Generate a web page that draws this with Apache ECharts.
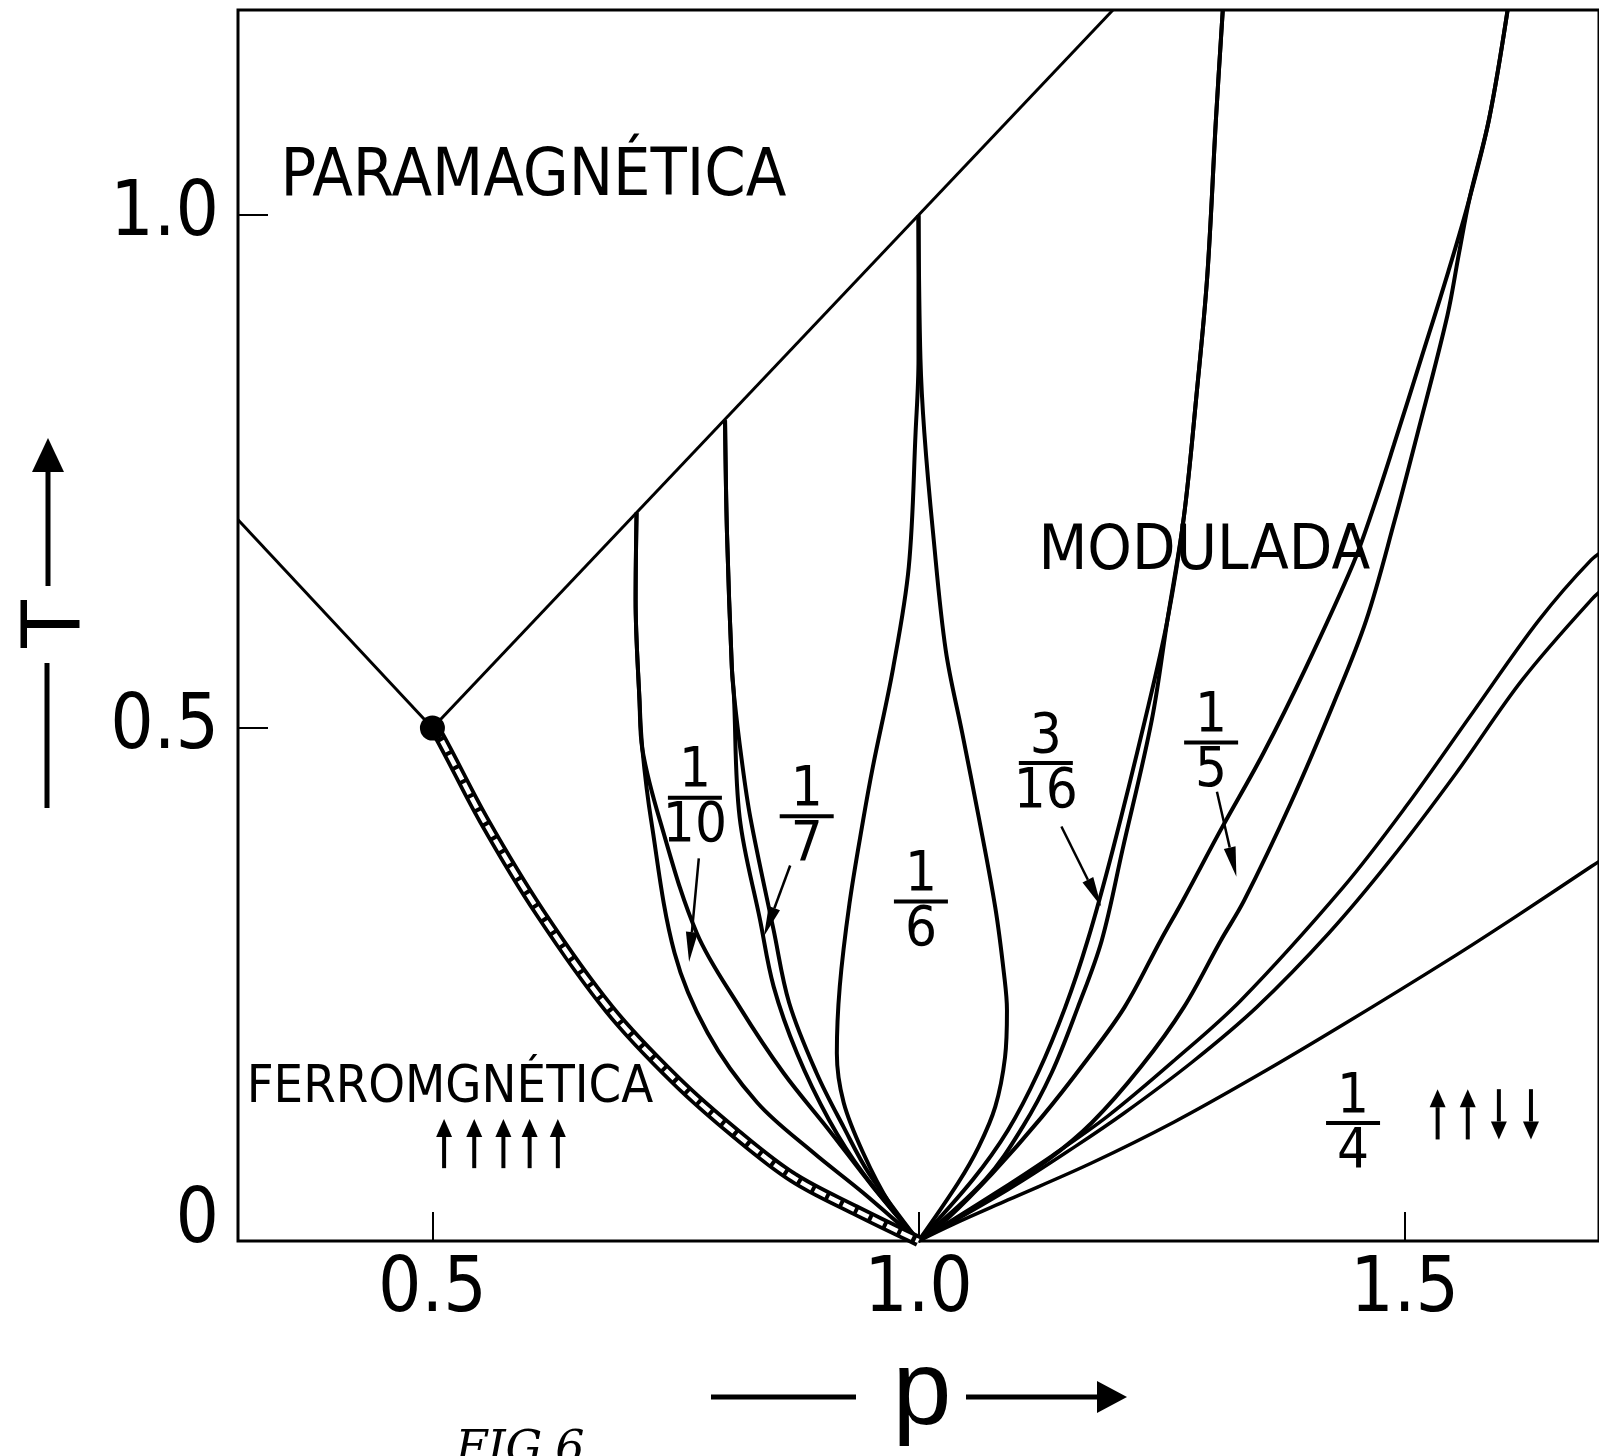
<!DOCTYPE html>
<html>
<head>
<meta charset="utf-8">
<title>Diagrama de fases</title>
<script src="https://cdn.jsdelivr.net/npm/echarts@6.0.0/dist/echarts.min.js"></script>
<style>
  html, body { margin: 0; padding: 0; background: #fff; }
  #chart { width: 1599px; height: 1456px; }
</style>
</head>
<body>
<div id="chart"></div>
<script>
// ---- datos (p, T) ----
const xTicks = [0.5, 1.0, 1.5]
const yTicks = [0, 0.5, 1.0]

const leftBoundary = [[0.3, 0.703], [0.5, 0.5]]
const paraBoundary = [[0.5, 0.5], [1.2, 1.2]]
const multiPoint = [[0.5, 0.5]]

const ferroBand = [[0.5, 0.5], [0.506, 0.494], [0.553, 0.410], [0.610, 0.321], [0.682, 0.226],
  [0.751, 0.156], [0.813, 0.104], [0.871, 0.062], [0.935, 0.030], [1.0, 0]]

const tenthOuter = [[0.710, 0.710], [0.709, 0.625], [0.713, 0.527], [0.716, 0.479], [0.725, 0.410],
  [0.749, 0.281], [0.783, 0.203], [0.834, 0.135], [0.892, 0.086], [0.943, 0.047], [1.0, 0]]
const tenthInner = [[0.710, 0.710], [0.709, 0.625], [0.713, 0.527], [0.716, 0.479], [0.734, 0.410],
  [0.772, 0.300], [0.816, 0.228], [0.861, 0.164], [0.908, 0.108], [0.953, 0.053], [1.0, 0]]

const seventhLeft = [[0.801, 0.800], [0.803, 0.690], [0.808, 0.559], [0.810, 0.534], [0.816, 0.413],
  [0.837, 0.313], [0.851, 0.248], [0.875, 0.183], [0.908, 0.118], [0.943, 0.066], [1.0, 0]]
const seventhRight = [[0.801, 0.800], [0.803, 0.690], [0.808, 0.559], [0.810, 0.534], [0.818, 0.470],
  [0.827, 0.413], [0.851, 0.303], [0.867, 0.232], [0.895, 0.164], [0.923, 0.111], [0.949, 0.066], [1.0, 0]]

const sixthLeft = [[1.0, 1.0], [1.0, 0.86], [0.997, 0.788], [0.990, 0.657], [0.974, 0.559], [0.953, 0.462],
  [0.943, 0.410], [0.929, 0.329], [0.919, 0.248], [0.916, 0.183], [0.923, 0.135], [0.943, 0.086],
  [0.970, 0.037], [1.0, 0]]
const sixthRight = [[1.0, 1.0], [1.002, 0.86], [1.006, 0.788], [1.015, 0.690], [1.028, 0.576], [1.045, 0.495],
  [1.062, 0.413], [1.079, 0.325], [1.088, 0.260], [1.091, 0.225], [1.089, 0.179], [1.079, 0.131],
  [1.062, 0.092], [1.041, 0.057], [1.0, 0]]

const threeSixteenthLeft = [[1.313, 1.2], [1.306, 1.094], [1.297, 0.940], [1.286, 0.825], [1.273, 0.706],
  [1.256, 0.605], [1.233, 0.508], [1.200, 0.382], [1.174, 0.293], [1.151, 0.228], [1.123, 0.164],
  [1.092, 0.108], [1.056, 0.060], [1.0, 0]]
const threeSixteenthRight = [[1.313, 1.2], [1.306, 1.094], [1.297, 0.940], [1.286, 0.825], [1.273, 0.706],
  [1.256, 0.605], [1.240, 0.508], [1.210, 0.382], [1.1885, 0.293], [1.164, 0.228], [1.137, 0.164],
  [1.107, 0.111], [1.069, 0.060], [1.0, 0]]

const fifthLeft = [[1.606, 1.2], [1.587, 1.094], [1.567, 1.017], [1.545, 0.945], [1.518, 0.863],
  [1.489, 0.776], [1.468, 0.715], [1.447, 0.660], [1.399, 0.560], [1.355, 0.476], [1.311, 0.401],
  [1.272, 0.332], [1.249, 0.293], [1.212, 0.228], [1.171, 0.174], [1.127, 0.121], [1.076, 0.066],
  [1.031, 0.023], [1.0, 0]]
const fifthRight = [[1.606, 1.2], [1.587, 1.094], [1.567, 1.017], [1.556, 0.963], [1.544, 0.902], [1.513, 0.786],
  [1.490, 0.703], [1.4605, 0.605], [1.427, 0.524], [1.383, 0.427], [1.335, 0.332], [1.311, 0.293],
  [1.273, 0.228], [1.229, 0.170], [1.178, 0.115], [1.133, 0.079], [1.076, 0.043], [1.0, 0]]

const rightPairUpper = [[1.71, 0.676], [1.692, 0.664], [1.638, 0.605], [1.570, 0.515], [1.501, 0.423],
  [1.437, 0.345], [1.332, 0.235], [1.263, 0.176], [1.195, 0.122], [1.137, 0.083], [1.076, 0.045], [1.0, 0]]
const rightPairLower = [[1.71, 0.640], [1.692, 0.625], [1.621, 0.547], [1.553, 0.456], [1.485, 0.371],
  [1.422, 0.300], [1.348, 0.228], [1.281, 0.174], [1.212, 0.125], [1.161, 0.092], [1.092, 0.050], [1.0, 0]]

const quarterBoundary = [[1.71, 0.376], [1.692, 0.365], [1.614, 0.316], [1.5485, 0.276], [1.437, 0.211],
  [1.348, 0.161], [1.263, 0.116], [1.178, 0.076], [1.092, 0.040], [1.035, 0.016], [1.0, 0]]

// rotulos de las fases
const regionLabels = [
  { text: 'PARAMAGNÉTICA', x: 0.604, y: 1.036 },
  { text: 'MODULADA', x: 1.294, y: 0.671 },
  { text: 'FERROMGNÉTICA', x: 0.518, y: 0.149 }
]
const fractionLabels = [
  { num: '1', den: '10', x: 0.770, y: 0.432 },
  { num: '1', den: '7', x: 0.885, y: 0.414 },
  { num: '1', den: '6', x: 1.0025, y: 0.331 },
  { num: '3', den: '16', x: 1.131, y: 0.466 },
  { num: '1', den: '5', x: 1.301, y: 0.486 },
  { num: '1', den: '4', x: 1.447, y: 0.115 }
]
// flechas que senalan las fases (desde p, T -> hasta p, T)
const pointerArrows = [
  [0.774, 0.373, 0.764, 0.272],
  [0.868, 0.366, 0.841, 0.297],
  [1.147, 0.404, 1.188, 0.326],
  [1.307, 0.438, 1.327, 0.355]
]
// espines
const ferroSpinX = [0.512, 0.543, 0.573, 0.600, 0.629]
const ferroSpinT = [0.071, 0.119]
const quarterSpinX = [1.534, 1.565, 1.597, 1.630]
const quarterSpinDir = [1, 1, -1, -1]
const quarterSpinT = [0.099, 0.148]

const NARROW = "'Liberation Sans Narrow', 'DejaVu Sans Condensed', 'Liberation Sans', sans-serif"
const REGULAR = "'Liberation Sans', Arial, sans-serif"
const regionFontSize = { 'PARAMAGNÉTICA': 66, 'MODULADA': 63, 'FERROMGNÉTICA': 52 }

const chart = echarts.init(document.getElementById('chart'))

function curve(data, width) {
  return {
    type: 'line',
    data: data,
    showSymbol: false,
    symbol: 'none',
    smooth: 0.35,
    silent: true,
    lineStyle: { color: '#000', width: width },
    z: 3
  }
}

function arrowRenderer(headLen, headHalf, shaft) {
  return function (params, api) {
    const a = api.coord([api.value(0), api.value(1)])
    const b = api.coord([api.value(2), api.value(3)])
    const dx = b[0] - a[0], dy = b[1] - a[1]
    const len = Math.hypot(dx, dy)
    const ux = dx / len, uy = dy / len
    const bx = b[0] - ux * headLen, by = b[1] - uy * headLen
    return {
      type: 'group',
      children: [
        { type: 'line', shape: { x1: a[0], y1: a[1], x2: bx, y2: by }, style: { stroke: '#000', lineWidth: shaft } },
        {
          type: 'polygon',
          shape: { points: [[b[0], b[1]], [bx - uy * headHalf, by + ux * headHalf], [bx + uy * headHalf, by - ux * headHalf]] },
          style: { fill: '#000' }
        }
      ]
    }
  }
}

const spinData = ferroSpinX.map(x => [x, ferroSpinT[0], x, ferroSpinT[1]])
  .concat(quarterSpinX.map((x, i) => quarterSpinDir[i] > 0
    ? [x, quarterSpinT[0], x, quarterSpinT[1]]
    : [x, quarterSpinT[1], x, quarterSpinT[0]]))

const hidden = { color: 'rgba(0,0,0,0)', opacity: 1 }

function textSeries(data, offset, fontSize, z) {
  return {
    type: 'scatter', silent: true, symbolSize: 1, itemStyle: hidden, z: z,
    data: data,
    label: {
      show: true, position: 'inside', offset: offset, color: '#000', opacity: 1,
      fontSize: fontSize, fontFamily: NARROW, formatter: p => p.name
    }
  }
}

const option = {
  backgroundColor: '#fff',
  animation: false,
  grid: {
    left: 238, top: 10, width: 1369, height: 1231,
    show: true, borderColor: '#000', borderWidth: 3, backgroundColor: 'transparent'
  },
  xAxis: {
    type: 'value', min: 0.3, max: 1.7,
    axisLine: { show: false },
    splitLine: { show: false },
    axisTick: { show: true, inside: true, length: 29, customValues: xTicks, lineStyle: { color: '#000', width: 2 } },
    axisLabel: {
      customValues: xTicks, margin: 12, color: '#000', fontSize: 76, fontFamily: NARROW,
      formatter: v => v.toFixed(1)
    }
  },
  yAxis: {
    type: 'value', min: 0, max: 1.2,
    axisLine: { show: false },
    splitLine: { show: false },
    axisTick: { show: true, inside: true, length: 30, customValues: [0.5, 1.0], lineStyle: { color: '#000', width: 2 } },
    axisLabel: {
      customValues: yTicks, margin: 19, color: '#000', fontSize: 76, fontFamily: NARROW,
      formatter: v => v === 0 ? '{z|0}' : v.toFixed(1),
      rich: { z: { fontSize: 76, fontFamily: NARROW, color: '#000', padding: [0, 0, 38, 0] } }
    }
  },
  series: [
    curve(leftBoundary, 3),
    curve(paraBoundary, 3),
    {
      type: 'line', data: ferroBand, showSymbol: false, symbol: 'none', smooth: 0.35, silent: true,
      lineStyle: { color: '#000', width: 12 }, z: 3
    },
    {
      type: 'line', data: ferroBand, showSymbol: false, symbol: 'none', smooth: 0.35, silent: true,
      lineStyle: { color: '#fff', width: 4.5, type: [12, 4] }, z: 4
    },
    curve(tenthOuter, 4),
    curve(tenthInner, 4),
    curve(seventhLeft, 4),
    curve(seventhRight, 4),
    curve(sixthLeft, 4),
    curve(sixthRight, 4),
    curve(threeSixteenthLeft, 4),
    curve(threeSixteenthRight, 4),
    curve(fifthLeft, 4),
    curve(fifthRight, 4),
    curve(rightPairUpper, 3.5),
    curve(rightPairLower, 3.5),
    curve(quarterBoundary, 3.5),
    {
      type: 'scatter', data: multiPoint, symbolSize: 25, itemStyle: { color: '#000', opacity: 1 }, z: 6, silent: true
    },
    {
      type: 'scatter', silent: true, symbolSize: 1, itemStyle: hidden, z: 2,
      data: regionLabels.map(r => ({
        value: [r.x, r.y], name: r.text,
        label: { fontSize: regionFontSize[r.text] }
      })),
      label: { show: true, position: 'inside', color: '#000', opacity: 1, fontFamily: NARROW, formatter: p => p.name }
    },
    textSeries(fractionLabels.map(f => ({ value: [f.x, f.y], name: f.num })), [0, -26], 56, 5),
    textSeries(fractionLabels.map(f => ({ value: [f.x, f.y], name: f.den })), [0, 29], 56, 5),
    {
      type: 'custom', silent: true, z: 5,
      data: fractionLabels.map(f => [f.x, f.y]),
      renderItem: (params, api) => {
        const c = api.coord([api.value(0), api.value(1)])
        return { type: 'line', shape: { x1: c[0] - 27, y1: c[1], x2: c[0] + 27, y2: c[1] }, style: { stroke: '#000', lineWidth: 4 } }
      }
    },
    {
      type: 'custom', silent: true, z: 5,
      data: pointerArrows,
      renderItem: arrowRenderer(30, 6, 2.5)
    },
    {
      type: 'custom', silent: true, z: 5,
      data: spinData,
      renderItem: arrowRenderer(18, 8, 4)
    }
  ],
  graphic: [
    { type: 'polygon', shape: { points: [[48, 438], [32, 472], [64, 472]] }, style: { fill: '#000' } },
    { type: 'line', shape: { x1: 48, y1: 470, x2: 48, y2: 586 }, style: { stroke: '#000', lineWidth: 5 } },
    {
      type: 'text', x: 56, y: 624, rotation: Math.PI / 2,
      style: { text: 'T', fontSize: 85, fontFamily: REGULAR, fill: '#000', align: 'center', verticalAlign: 'middle' }
    },
    { type: 'line', shape: { x1: 47, y1: 663, x2: 47, y2: 808 }, style: { stroke: '#000', lineWidth: 5 } },
    { type: 'line', shape: { x1: 711, y1: 1397, x2: 856, y2: 1397 }, style: { stroke: '#000', lineWidth: 5 } },
    {
      type: 'text', x: 922, y: 1395,
      style: { text: 'p', fontSize: 106, fontFamily: REGULAR, fill: '#000', align: 'center', verticalAlign: 'middle' }
    },
    { type: 'line', shape: { x1: 966, y1: 1397, x2: 1100, y2: 1397 }, style: { stroke: '#000', lineWidth: 5 } },
    { type: 'polygon', shape: { points: [[1127, 1397], [1097, 1381], [1097, 1413]] }, style: { fill: '#000' } },
    {
      type: 'text', x: 520, y: 1428,
      style: { text: 'FIG.6', fontSize: 46, fontStyle: 'italic', fontFamily: "'DejaVu Serif', serif", fill: '#000', align: 'center', verticalAlign: 'top' }
    }
  ]
}

chart.setOption(option)
</script>
</body>
</html>
